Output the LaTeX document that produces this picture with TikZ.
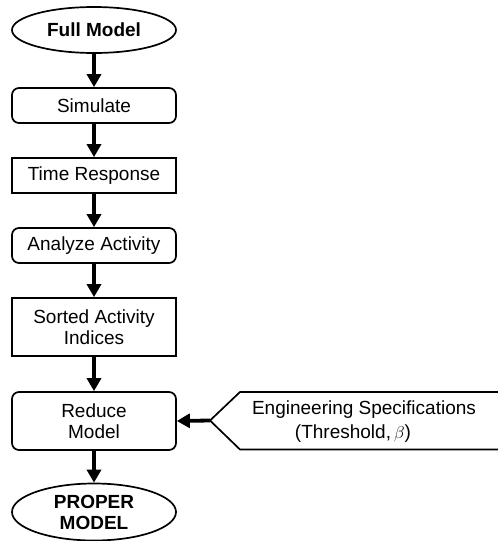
\documentclass[tikz,border=0pt]{standalone}
\usepackage{fontspec}
\setmainfont{Liberation Sans}
\usetikzlibrary{shapes.geometric,arrows.meta}
\begin{document}
\begin{tikzpicture}[x=1pt,y=-1pt,
  font=\fontsize{19}{21}\selectfont,
  box/.style={draw,line width=1.7pt,minimum width=164pt,inner sep=0pt,align=center},
  roundbox/.style={box,rounded corners=7pt},
  oval/.style={draw,line width=1.7pt,ellipse,minimum width=164pt,inner sep=0pt,align=center,font=\fontsize{19}{21}\selectfont\bfseries},
  flow/.style={line width=3.8pt,-{Triangle[length=13pt,width=14pt]}}]
\useasboundingbox (0,0) rectangle (498,541);

\node[oval,minimum height=46pt] (full) at (94,30) {Full Model};
\node[roundbox,minimum height=35pt] (sim) at (94,105.5) {Simulate};
\node[box,minimum height=35pt] (time) at (94,175.5) {Time Response};
\node[roundbox,minimum height=35pt] (ana) at (94,245.5) {Analyze Activity};
\node[box,minimum height=58pt] (sort) at (94,327) {Sorted Activity\\Indices};
\node[roundbox,minimum height=58pt] (red) at (94,421) {Reduce\\Model};
\node[oval,minimum height=57pt] (proper) at (94,512) {PROPER\\MODEL};

% input block for the specifications, open on its right side
\coordinate (spec) at (210,420.5);
\draw[line width=1.7pt] (499,392) -- (240,392) -- (spec) -- (240,449.5) -- (499,449.5);
\node (spec1) at (364,410) {Engineering Specifications};
\node (spec2) at (353,434) {(Threshold,\,$\beta$)};

\draw[flow] (full) -- (sim);
\draw[flow] (sim) -- (time);
\draw[flow] (time) -- (ana);
\draw[flow] (ana) -- (sort);
\draw[flow] (sort) -- (red);
\draw[flow] (red) -- (proper);
\draw[flow] (spec) -- (red.east);
\end{tikzpicture}
\end{document}
